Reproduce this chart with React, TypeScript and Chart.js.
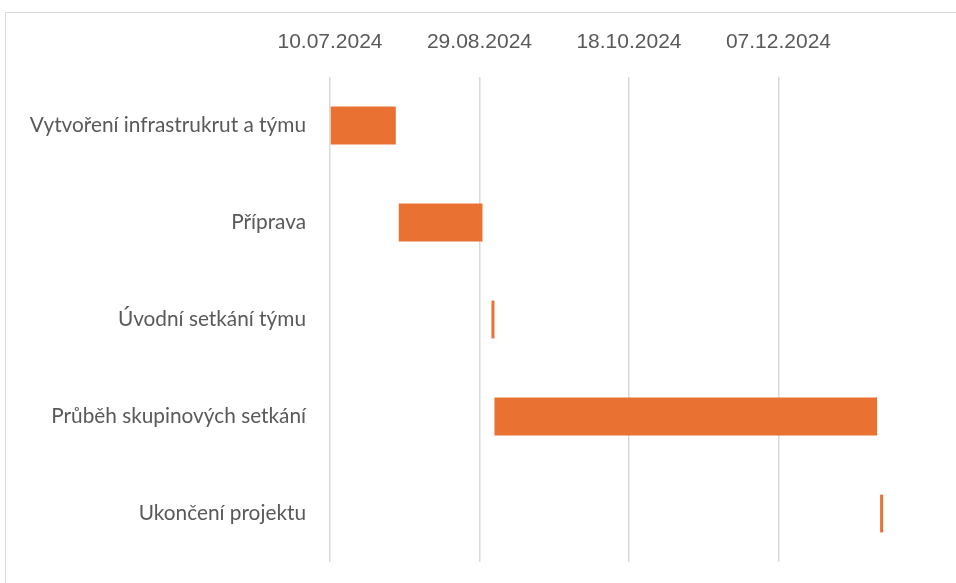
import React, { useEffect, useRef } from "react";
import { Chart, registerables } from "chart.js";

Chart.register(...registerables);

const tasks = [
  "Vytvoření infrastrukrut a týmu",
  "Příprava",
  "Úvodní setkání týmu",
  "Průběh skupinových setkání",
  "Ukončení projektu",
];
const startDates = ["2024-07-10", "2024-08-02", "2024-09-02", "2024-09-03", "2025-01-10"];
const endDates = ["2024-08-01", "2024-08-30", "2024-09-03", "2025-01-09", "2025-01-11"];
const axisStart = "2024-07-10";
const axisEnd = "2025-01-22";
const tickStepDays = 50;

const DAY = 86400000;
const toDay = (s: string) => {
  const [y, m, d] = s.split("-").map(Number);
  return Date.UTC(y, m - 1, d) / DAY;
};
const base = toDay(axisStart);
const fmt = (v: number) => {
  const dt = new Date((base + v) * DAY);
  const dd = String(dt.getUTCDate()).padStart(2, "0");
  const mm = String(dt.getUTCMonth() + 1).padStart(2, "0");
  return `${dd}.${mm}.${dt.getUTCFullYear()}`;
};

export default function App() {
  const ref = useRef<HTMLCanvasElement>(null);
  useEffect(() => {
    if (!ref.current) return;
    const data = tasks.map((_, i) => [toDay(startDates[i]) - base, toDay(endDates[i]) - base]);
    const xMax = toDay(axisEnd) - base;
    const chart = new Chart(ref.current, {
      type: "bar",
      data: {
        labels: tasks,
        datasets: [
          {
            data: data as any,
            backgroundColor: "#E97132",
            borderWidth: 0,
            borderSkipped: false,
            barPercentage: 0.39,
            categoryPercentage: 1,
          },
        ],
      },
      options: {
        animation: false,
        responsive: false,
        indexAxis: "y",
        layout: { padding: { top: 0, right: 40, bottom: 21, left: 0 } },
        plugins: { legend: { display: false }, tooltip: { enabled: false } },
        scales: {
          x: {
            type: "linear",
            position: "top",
            min: 0,
            max: xMax,
            afterBuildTicks: (scale: any) => {
              scale.ticks = scale.ticks.filter(
                (t: any) => t.value % tickStepDays === 0 && t.value < xMax
              );
            },
            afterFit: (scale: any) => {
              scale.height = 77;
              scale.paddingLeft = 0;
              scale.paddingRight = 0;
            },
            ticks: {
              stepSize: tickStepDays,
              callback: (v: any) => fmt(Number(v)),
              color: "#595959",
              font: { family: "'Liberation Sans', Arial, sans-serif", size: 21 },
              padding: 22,
              maxRotation: 0,
            },
            grid: { color: "#d9d9d9", lineWidth: 1.5, drawTicks: false },
            border: { display: false },
          },
          y: {
            afterFit: (scale: any) => {
              scale.width = 330;
              scale.paddingTop = 0;
              scale.paddingBottom = 0;
            },
            ticks: {
              color: "#595959",
              font: { family: "Lato, 'Noto Sans', sans-serif", size: 20.8 },
              padding: 24,
            },
            grid: { display: false, drawTicks: false },
            border: { display: false },
          },
        },
      },
    });
    return () => chart.destroy();
  }, []);
  return (
    <div style={{ position: "fixed", left: 0, top: 0, width: 956, height: 583, background: "#fff", overflow: "hidden" }}>
      <div
        style={{
          position: "absolute",
          left: 5,
          top: 12,
          width: 2000,
          height: 2000,
          border: "1.5px solid #d9d9d9",
        }}
      />
      <canvas ref={ref} width={956} height={583} style={{ position: "absolute", left: 0, top: 0 }} />
    </div>
  );
}
